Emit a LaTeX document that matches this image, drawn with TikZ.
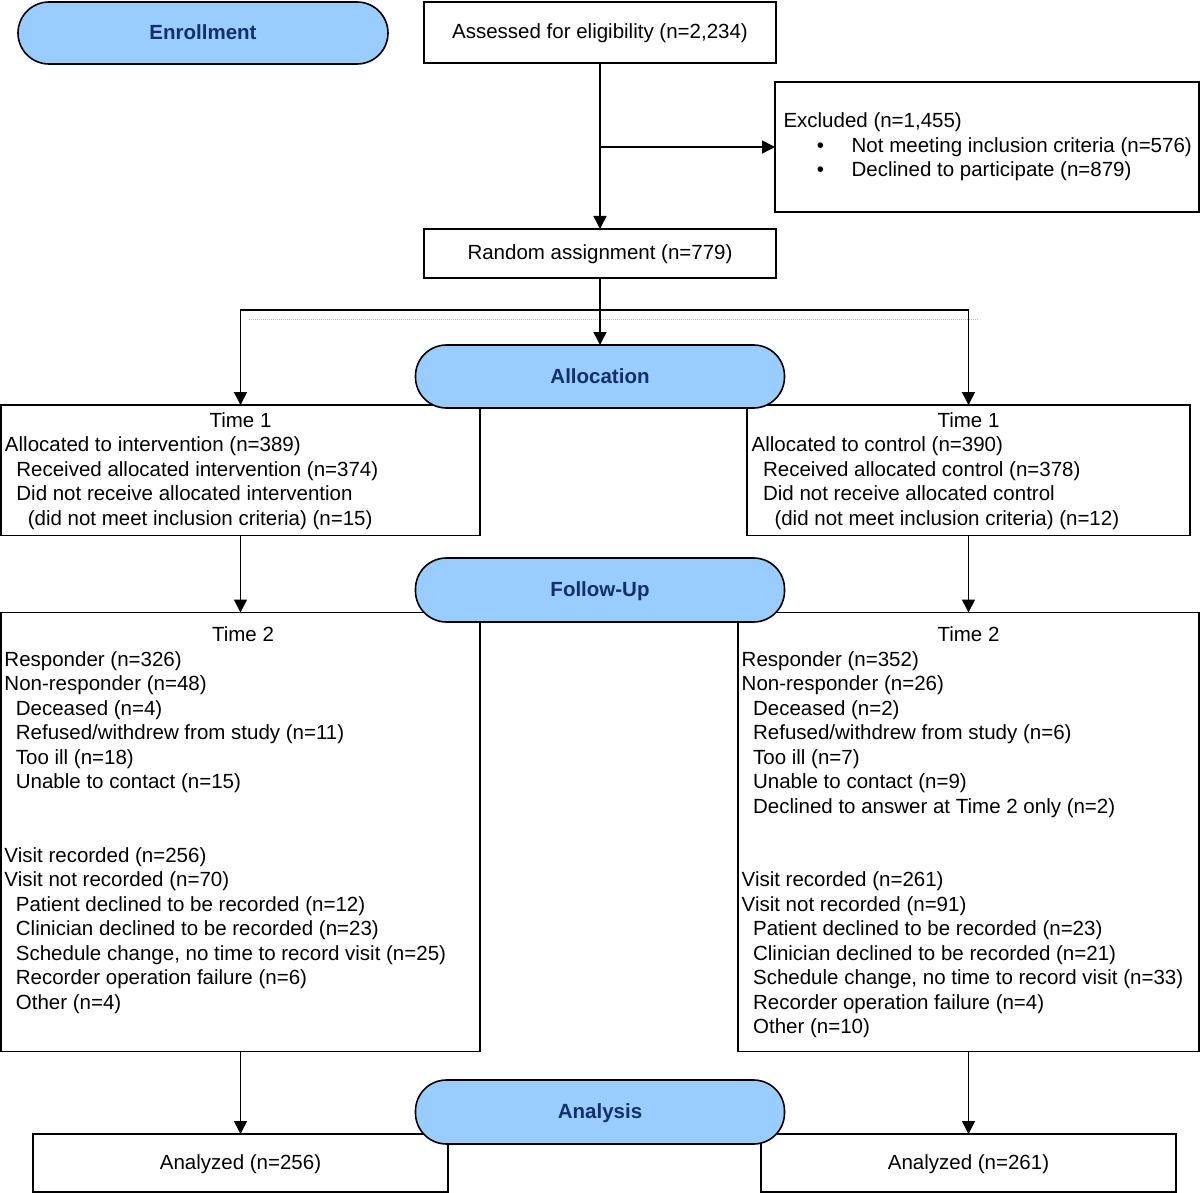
\documentclass[tikz,border=0pt]{standalone}
\usepackage{fontspec}
\setmainfont{Liberation Sans}
\usetikzlibrary{arrows.meta}
\definecolor{pillfill}{HTML}{99CCFF}
\definecolor{pilltext}{HTML}{14306B}
\definecolor{dotblue}{HTML}{A8C0E6}
\newcommand\diagfont{\fontsize{20.5}{24.5}\selectfont}
\newcommand\indA{\hspace*{11.4pt}}
\newcommand\indB{\hspace*{22.8pt}}
\begin{document}
\begin{tikzpicture}[x=1pt,y=-1pt,
  every node/.style={inner sep=0pt, outer sep=0pt, font=\diagfont},
  box/.style={draw, line width=1.6pt, rectangle, anchor=north west, text height=13pt, text depth=0pt},
  pill/.style={draw, line width=1.6pt, fill=pillfill, rounded corners=31pt, text=pilltext, font=\diagfont\bfseries, text height=13pt, text depth=0pt},
  txt/.style={align=left, anchor=north west},
  arr/.style={line width=1.6pt, -{Triangle[length=13pt,width=13pt]}},
  link/.style={line width=1.6pt},
  dotline/.style={draw=dotblue, line width=1pt, dash pattern=on 1pt off 1pt}
]
\useasboundingbox (0,0) rectangle (1200,1193);

% boxes
\node[box, minimum width=352pt, minimum height=61pt] (assess) at (424,2) {Assessed for eligibility (n=2,234)};
\node[box, minimum width=424pt, minimum height=130pt] (excl) at (775,82) {};
\node[box, minimum width=352pt, minimum height=49pt] (rand) at (424,229) {Random assignment (n=779)};
\node[box, minimum width=479pt, minimum height=130.5pt] (t1L) at (1,405) {};
\node[box, minimum width=443pt, minimum height=130.5pt] (t1R) at (747,405) {};
\node[box, minimum width=479pt, minimum height=439pt] (t2L) at (1,612.5) {};
\node[box, minimum width=461pt, minimum height=439pt] (t2R) at (738,612.5) {};
\node[box, minimum width=415pt, minimum height=58pt] (anL) at (33,1134) {Analyzed (n=256)};
\node[box, minimum width=415pt, minimum height=58pt] (anR) at (761,1134) {Analyzed (n=261)};

% texts
\node[txt] (exclT) at (783.5,110.85) {\strut Excluded (n=1,455)\\
\strut\hspace*{33.4pt}\makebox[34.8pt][l]{•}Not meeting inclusion criteria (n=576)\\
\strut\hspace*{33.4pt}\makebox[34.8pt][l]{•}Declined to participate (n=879)};

\node[anchor=base] (t1Lh) at (240.5,427) {Time 1};
\node[txt] (t1Lt) at (5,434.35) {\strut Allocated to intervention (n=389)\\
\strut\indA Received allocated intervention (n=374)\\
\strut\indA Did not receive allocated intervention\\
\strut\indB (did not meet inclusion criteria) (n=15)};

\node[anchor=base] (t1Rh) at (968.5,427) {Time 1};
\node[txt] (t1Rt) at (751.7,434.35) {\strut Allocated to control (n=390)\\
\strut\indA Received allocated control (n=378)\\
\strut\indA Did not receive allocated control\\
\strut\indB (did not meet inclusion criteria) (n=12)};

\node[anchor=base] (t2Lh) at (243,641.5) {Time 2};
\node[txt] (t2Lt) at (4.5,648.85) {\strut Responder (n=326)\\
\strut Non-responder (n=48)\\
\strut\indA Deceased (n=4)\\
\strut\indA Refused/withdrew from study (n=11)\\
\strut\indA Too ill (n=18)\\
\strut\indA Unable to contact (n=15)\\
\strut\\
\strut\\
\strut Visit recorded (n=256)\\
\strut Visit not recorded (n=70)\\
\strut\indA Patient declined to be recorded (n=12)\\
\strut\indA Clinician declined to be recorded (n=23)\\
\strut\indA Schedule change, no time to record visit (n=25)\\
\strut\indA Recorder operation failure (n=6)\\
\strut\indA Other (n=4)};

\node[anchor=base] (t2Rh) at (968.5,641.5) {Time 2};
\node[txt] (t2Rt) at (741.7,648.85) {\strut Responder (n=352)\\
\strut Non-responder (n=26)\\
\strut\indA Deceased (n=2)\\
\strut\indA Refused/withdrew from study (n=6)\\
\strut\indA Too ill (n=7)\\
\strut\indA Unable to contact (n=9)\\
\strut\indA Declined to answer at Time 2 only (n=2)\\
\strut\\
\strut\\
\strut Visit recorded (n=261)\\
\strut Visit not recorded (n=91)\\
\strut\indA Patient declined to be recorded (n=23)\\
\strut\indA Clinician declined to be recorded (n=21)\\
\strut\indA Schedule change, no time to record visit (n=33)\\
\strut\indA Recorder operation failure (n=4)\\
\strut\indA Other (n=10)};

% stray dotted line
\coordinate (dA) at (249,319);
\coordinate (dB) at (978,319);
\draw[dotline] (dA) -- (dB);

% pills
\node[pill, minimum width=370pt, minimum height=62pt] (enroll) at (203,33) {Enrollment};
\node[pill, minimum width=369pt, minimum height=63pt] (alloc) at (600,376.5) {Allocation};
\node[pill, minimum width=369pt, minimum height=64pt] (follow) at (600,590) {Follow-Up};
\node[pill, minimum width=369pt, minimum height=64pt] (anal) at (600,1112) {Analysis};

% connectors
\coordinate (brk) at (600,147);
\coordinate (split) at (600,310);
\draw[arr] (assess.south) -- (rand.north);
\draw[arr] (brk) -- (excl.west);
\draw[link] (rand.south) -- (split);
\draw[arr] (split) -- (alloc.north);
\draw[arr] (split) -| (t1L.north);
\draw[arr] (split) -| (t1R.north);
\draw[arr] (t1L.south) -- (t2L.north);
\draw[arr] (t1R.south) -- (t2R.north);
\draw[arr] (t2L.south) -- (anL.north);
\draw[arr] (t2R.south) -- (anR.north);
\end{tikzpicture}
\end{document}
